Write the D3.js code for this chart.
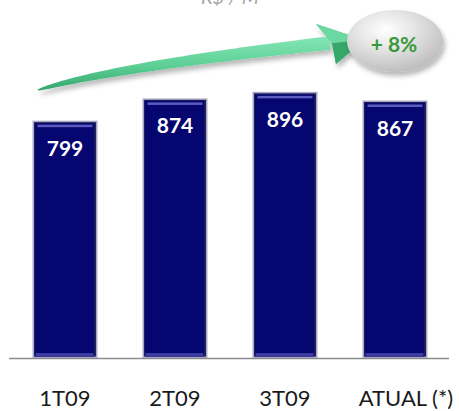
<!DOCTYPE html>
<html>
<head>
<meta charset="utf-8">
<script src="https://cdn.jsdelivr.net/npm/d3@7"></script>
<style>
  html, body { margin: 0; padding: 0; background: #fff; }
  svg { display: block; }
</style>
</head>
<body>
<svg id="chart" width="459" height="411"></svg>
<script>
// Quarterly values (R$ / M)
const categories = ["1T09", "2T09", "3T09", "ATUAL (*)"];
const values = [799, 874, 896, 867];
const unitLabel = "R$ / M";
const growthLabel = "+ 8%";

const W = 459, H = 411;
const svg = d3.select("#chart");

const x = d3.scaleBand()
  .domain(categories)
  .range([10, 450])
  .paddingInner(0.41)
  .paddingOuter(0.205);

const y = d3.scaleLinear()
  .domain([0, 1000])
  .range([358, 61]);

const defs = svg.append("defs");

// soft shadow used by the arrow and the bubble
const sh = defs.append("filter").attr("id", "shadow")
  .attr("x", "-20%").attr("y", "-40%").attr("width", "150%").attr("height", "200%");
sh.append("feDropShadow").attr("dx", 2).attr("dy", 4).attr("stdDeviation", 2.5)
  .attr("flood-color", "#000").attr("flood-opacity", 0.28);

const arrowGrad = defs.append("linearGradient").attr("id", "arrowGrad")
  .attr("x1", 0).attr("y1", 0).attr("x2", 0).attr("y2", 1);
arrowGrad.append("stop").attr("offset", "0%").attr("stop-color", "#86e6b6");
arrowGrad.append("stop").attr("offset", "55%").attr("stop-color", "#5ccf95");
arrowGrad.append("stop").attr("offset", "100%").attr("stop-color", "#34a56c");

const bubbleGrad = defs.append("radialGradient").attr("id", "bubbleGrad")
  .attr("cx", "40%").attr("cy", "32%").attr("r", "70%");
bubbleGrad.append("stop").attr("offset", "0%").attr("stop-color", "#ffffff");
bubbleGrad.append("stop").attr("offset", "45%").attr("stop-color", "#e4e4e4");
bubbleGrad.append("stop").attr("offset", "100%").attr("stop-color", "#bdbdbd");

// unit label, mostly above the top edge
svg.append("text")
  .attr("x", 230).attr("y", 4)
  .attr("text-anchor", "middle")
  .attr("font-family", "Lato, 'Open Sans', sans-serif")
  .attr("font-style", "italic")
  .attr("font-size", 20)
  .attr("fill", "#a6a6a6")
  .text(unitLabel);

// baseline
svg.append("line")
  .attr("x1", 9).attr("x2", 449)
  .attr("y1", y(0) + 0.5).attr("y2", y(0) + 0.5)
  .attr("stroke", "#8c8c8c").attr("stroke-width", 1.5);

// bars
const bars = svg.append("g").selectAll("g").data(values).join("g")
  .attr("transform", (d, i) => `translate(${x(categories[i])},0)`);

const bw = x.bandwidth();
bars.append("rect")
  .attr("x", 0).attr("y", d => y(d))
  .attr("width", bw).attr("height", d => y(0) - y(d))
  .attr("fill", "#a7a7c4");
bars.append("rect")
  .attr("x", 1.5).attr("y", d => y(d) + 1.5)
  .attr("width", bw - 3).attr("height", d => y(0) - y(d) - 3)
  .attr("fill", "#1a1a58");
bars.append("rect")
  .attr("x", 2.5).attr("y", d => y(d) + 2.5)
  .attr("width", bw - 6).attr("height", d => y(0) - y(d) - 4)
  .attr("fill", "#060670");
// top highlight
bars.append("rect")
  .attr("x", 5).attr("y", d => y(d) + 4)
  .attr("width", bw - 10).attr("height", 2.5)
  .attr("fill", "#5a5abf");
// bottom sheen
bars.append("rect")
  .attr("x", 3).attr("y", d => y(0) - 5)
  .attr("width", bw - 7).attr("height", 3.5)
  .attr("fill", "#3b3ba0");

// value labels inside bars
bars.append("text")
  .attr("x", bw / 2).attr("y", d => y(d) + 35)
  .attr("text-anchor", "middle")
  .attr("font-family", "Lato, 'Open Sans', sans-serif")
  .attr("font-weight", "bold")
  .attr("font-size", 21)
  .attr("fill", "#ffffff")
  .text(d => d);

// category labels
svg.append("g").selectAll("text").data(categories).join("text")
  .attr("x", (d, i) => x(d) + bw / 2 + (i === categories.length - 1 ? 11 : 0))
  .attr("y", 406)
  .attr("text-anchor", "middle")
  .attr("font-family", "Lato, 'Open Sans', sans-serif")
  .attr("font-size", 22)
  .attr("fill", "#1a1a1a")
  .text(d => d);

// growth arrow: tapered curved shaft plus head
const p0 = [38, 90], pc = [113, 67], p2 = [330, 43];
const bez = t => [
  (1 - t) * (1 - t) * p0[0] + 2 * (1 - t) * t * pc[0] + t * t * p2[0],
  (1 - t) * (1 - t) * p0[1] + 2 * (1 - t) * t * pc[1] + t * t * p2[1]
];
const der = t => [
  2 * (1 - t) * (pc[0] - p0[0]) + 2 * t * (p2[0] - pc[0]),
  2 * (1 - t) * (pc[1] - p0[1]) + 2 * t * (p2[1] - pc[1])
];
const upper = [], lower = [];
d3.range(0, 1.0001, 0.02).forEach(t => {
  const p = bez(t), dv = der(t);
  const len = Math.hypot(dv[0], dv[1]);
  const nx = -dv[1] / len, ny = dv[0] / len;
  const w = 0.6 + 6.2 * Math.pow(t, 0.6);
  upper.push([p[0] - nx * w, p[1] - ny * w]);
  lower.push([p[0] + nx * w, p[1] + ny * w]);
});
const shaft = upper.concat(lower.reverse());
const arrowG = svg.append("g").attr("filter", "url(#shadow)");
arrowG.append("path")
  .attr("d", d3.line()(shaft) + "Z")
  .attr("fill", "url(#arrowGrad)");
// head
arrowG.append("path")
  .attr("d", d3.line()([[316, 24], [364, 40], [336, 64], [332, 43]]) + "Z")
  .attr("fill", "#4fc487");
arrowG.append("path")
  .attr("d", d3.line()([[332, 43], [364, 40], [336, 64]]) + "Z")
  .attr("fill", "#34a86a");
arrowG.append("path")
  .attr("d", d3.line()([[316, 24], [364, 40], [332, 43]]) + "Z")
  .attr("fill", "#6bd8a0");

// growth bubble
svg.append("ellipse")
  .attr("cx", 395).attr("cy", 41).attr("rx", 48).attr("ry", 31)
  .attr("fill", "url(#bubbleGrad)")
  .attr("filter", "url(#shadow)");
svg.append("text")
  .attr("x", 394).attr("y", 52)
  .attr("text-anchor", "middle")
  .attr("font-family", "Lato, 'Open Sans', sans-serif")
  .attr("font-weight", "bold")
  .attr("font-size", 21)
  .attr("fill", "#3a9a3a")
  .text(growthLabel);
</script>
</body>
</html>
